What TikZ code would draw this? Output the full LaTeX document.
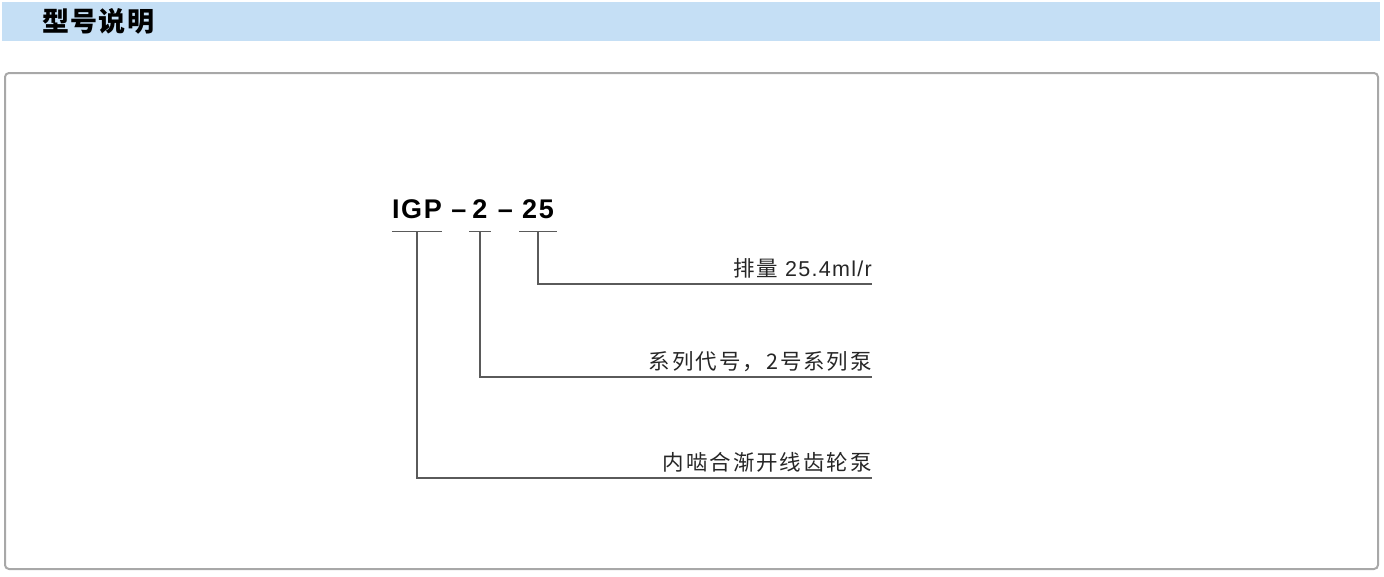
\documentclass[tikz,border=0pt]{standalone}
\usepackage{fontspec}
\setmainfont{Liberation Sans}
\newfontfamily\cjk{Noto Sans CJK SC}[LetterSpace=9]
\newfontfamily\titlefont{Noto Sans CJK SC}[LetterSpace=5]
\newfontfamily\latin{Liberation Sans}[LetterSpace=6]
\newfontfamily\codefont{Liberation Sans}[LetterSpace=6]
\usetikzlibrary{positioning}

\definecolor{bandblue}{HTML}{C5DFF5}
\definecolor{framegray}{HTML}{A8A8A8}
\definecolor{linegray}{HTML}{5A5A5A}

\tikzstyle{band}=[fill=bandblue]
\tikzstyle{frame}=[draw=framegray,line width=2pt,rounded corners=4pt]
\tikzstyle{code}=[inner sep=0pt,anchor=base,text height=18pt,text depth=13pt,font=\fontsize{27}{30}\selectfont\codefont\bfseries]
\tikzstyle{label}=[anchor=south east,inner xsep=0pt,inner ysep=7pt,text depth=0pt,text=black!85,font=\fontsize{21.5}{24}\selectfont\cjk]
\tikzstyle{link}=[draw=linegray,line width=1.2pt]

\begin{document}
\begin{tikzpicture}[x=1pt,y=-1pt]

\useasboundingbox (0,0) rectangle (1384,576);

\path[band] (2,2) rectangle (1380,41);
\node[anchor=west,inner sep=0pt,font=\fontsize{27}{30}\selectfont\titlefont\bfseries] (title) at (42,21) {型号说明};

\path[frame] (5,73) rectangle (1378,569);

\node[code,minimum width=50pt] (igp) at (417,218) {IGP};
\node[code] (hy1) at (459,218) {–};
\node[code,minimum width=21pt] (ser) at (480,218) {2};
\node[code] (hy2) at (505.5,218) {–};
\node[code,minimum width=37pt] (disp) at (538,218) {25};

\node[label] (l1) at (872,284) {排量 \latin 25.4ml/r};
\node[label] (l2) at (872,377) {系列代号，2号系列泵};
\node[label] (l3) at (872,478) {内啮合渐开线齿轮泵};

\path[link] (igp.south west) -- (igp.south east);
\path[link] (ser.south west) -- (ser.south east);
\path[link] (disp.south west) -- (disp.south east);

\path[link] (disp.south) |- (l1.south east);
\path[link] (ser.south) |- (l2.south east);
\path[link] (igp.south) |- (l3.south east);

\end{tikzpicture}
\end{document}
